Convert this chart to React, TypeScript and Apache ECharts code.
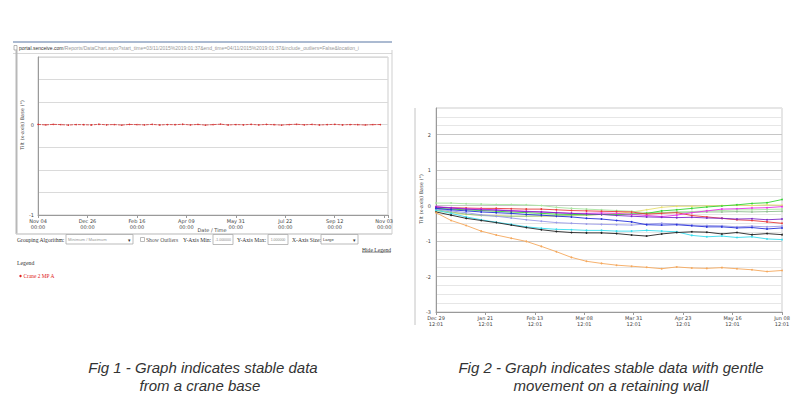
import React, { useEffect, useRef } from 'react';
import * as echarts from 'echarts';

// ---------- Fig 1 (crane base) ----------
const leftTickDates = ['Nov 04', 'Dec 26', 'Feb 16', 'Apr 09', 'May 31', 'Jul 22', 'Sep 12', 'Nov 03'];
const leftTickTime = '00:00';
const leftDays = [0, 8, 16, 24, 32, 40, 48, 56, 64, 72, 80, 88, 96, 104, 112, 120, 128, 136, 144, 152, 160, 168, 176, 184, 192, 200, 208, 216, 224, 232, 240, 248, 256, 264, 272, 280, 288, 296, 304, 312, 320, 328, 336, 344, 352, 360];
const craneValues = [0.003, -0.002, 0.004, 0.001, -0.004, 0.002, 0.0, -0.003, 0.005, -0.001, 0.002, -0.004, 0.003, 0.001, -0.002, 0.004, -0.003, 0.002, 0.0, 0.005, -0.002, 0.003, -0.004, 0.001, 0.006, -0.003, 0.002, -0.001, 0.004, -0.002, 0.003, 0.0, -0.004, 0.002, 0.005, -0.001, 0.003, -0.003, 0.001, 0.004, -0.002, 0.002, 0.0, -0.003, 0.001, 0.002];

// ---------- Fig 2 (retaining wall) ----------
const rightTickDates = ['Dec 29', 'Jan 21', 'Feb 13', 'Mar 08', 'Mar 31', 'Apr 23', 'May 16', 'Jun 08'];
const rightTickTime = '12:01';
const rightDays = [0, 7, 14, 21, 28, 35, 42, 49, 56, 63, 70, 77, 84, 91, 98, 105, 112, 119, 126, 133, 140, 147, 154, 161];
const orangeValues = [-0.2, -0.42, -0.56, -0.72, -0.83, -0.92, -1.01, -1.15, -1.3, -1.46, -1.57, -1.63, -1.68, -1.71, -1.74, -1.78, -1.73, -1.76, -1.77, -1.75, -1.78, -1.81, -1.86, -1.83];
const blackValues = [-0.18, -0.27, -0.36, -0.42, -0.48, -0.55, -0.62, -0.68, -0.73, -0.76, -0.77, -0.77, -0.79, -0.83, -0.86, -0.8, -0.76, -0.74, -0.75, -0.8, -0.76, -0.82, -0.79, -0.82];
const cyanValues = [-0.13, -0.22, -0.32, -0.4, -0.47, -0.53, -0.6, -0.64, -0.67, -0.68, -0.7, -0.7, -0.72, -0.72, -0.7, -0.72, -0.74, -0.84, -0.88, -0.86, -0.9, -0.88, -0.94, -0.96];
const blueValues = [-0.08, -0.12, -0.15, -0.18, -0.2, -0.22, -0.25, -0.27, -0.3, -0.32, -0.36, -0.38, -0.42, -0.46, -0.54, -0.55, -0.54, -0.57, -0.6, -0.6, -0.63, -0.62, -0.66, -0.63];
const lavenderValues = [-0.1, -0.15, -0.2, -0.26, -0.3, -0.35, -0.4, -0.44, -0.48, -0.5, -0.52, -0.53, -0.54, -0.55, -0.52, -0.5, -0.52, -0.55, -0.56, -0.57, -0.6, -0.58, -0.6, -0.58];
const redValues = [-0.05, -0.06, -0.07, -0.08, -0.08, -0.09, -0.1, -0.1, -0.12, -0.14, -0.15, -0.16, -0.17, -0.18, -0.24, -0.22, -0.2, -0.28, -0.32, -0.36, -0.4, -0.42, -0.46, -0.5];
const magentaValues = [-0.03, -0.06, -0.09, -0.1, -0.12, -0.14, -0.16, -0.18, -0.2, -0.22, -0.22, -0.21, -0.22, -0.25, -0.28, -0.31, -0.27, -0.2, -0.15, -0.1, -0.09, -0.07, -0.06, -0.03];
const greenValues = [-0.08, -0.1, -0.12, -0.14, -0.16, -0.18, -0.2, -0.22, -0.24, -0.25, -0.26, -0.25, -0.26, -0.24, -0.22, -0.15, -0.12, -0.08, -0.04, -0.01, 0.02, 0.06, 0.08, 0.17];
const paleGreenValues = [0.07, 0.07, 0.05, 0.04, 0.03, 0.03, 0.02, 0.0, -0.05, -0.08, -0.1, -0.12, -0.14, -0.16, -0.2, -0.2, -0.18, -0.17, -0.15, -0.14, -0.12, -0.12, -0.11, -0.1];
const yellowValues = [-0.15, -0.2, -0.25, -0.27, -0.28, -0.3, -0.3, -0.3, -0.3, -0.28, -0.27, -0.25, -0.22, -0.18, -0.12, -0.05, -0.02, -0.02, -0.01, 0.0, 0.01, 0.0, 0.02, 0.01];
const seaGreenValues = [-0.12, -0.18, -0.24, -0.28, -0.3, -0.3, -0.3, -0.29, -0.28, -0.27, -0.26, -0.25, -0.25, -0.24, -0.22, -0.2, -0.19, -0.19, -0.18, -0.18, -0.17, -0.18, -0.17, -0.16];
const purpleValues = [-0.04, -0.07, -0.1, -0.12, -0.13, -0.15, -0.17, -0.18, -0.2, -0.22, -0.24, -0.25, -0.28, -0.3, -0.32, -0.33, -0.34, -0.33, -0.35, -0.36, -0.38, -0.37, -0.4, -0.38];

const wallSeries = [
  { color: '#e8e070', values: yellowValues },
  { color: '#8fbf8f', values: seaGreenValues },
  { color: '#a8e6a0', values: paleGreenValues },
  { color: '#33d433', values: greenValues },
  { color: '#e83a3a', values: redValues },
  { color: '#e830e8', values: magentaValues },
  { color: '#7a28c8', values: purpleValues },
  { color: '#9a9ae8', values: lavenderValues },
  { color: '#2530d8', values: blueValues },
  { color: '#38dcee', values: cyanValues },
  { color: '#222222', values: blackValues },
  { color: '#f5a85c', values: orangeValues },
];

const isInt = (v: number) => Math.abs(v - Math.round(v)) < 1e-9;
const dateFormatter = (dates: string[], time: string, step: number) => (v: number) => {
  const i = v / step;
  if (!isInt(i)) return '';
  const k = Math.round(i);
  return k >= 0 && k < dates.length ? `${dates[k]}\n${time}` : '';
};

const axisFont = 'DejaVu Sans';
const serif = 'Liberation Serif';
const sans = 'Liberation Sans';

export default function App() {
  const ref = useRef<HTMLDivElement>(null);
  useEffect(() => {
    if (!ref.current) return;
    const chart = echarts.init(ref.current, undefined, { renderer: 'svg' });

    const formText = (x: number, y: number, text: string, extra: any = {}) => ({
      type: 'text', x, y, silent: true,
      style: { text, fontFamily: serif, fontSize: 5.6, fill: '#333', verticalAlign: 'middle', ...extra },
    });
    const box = (x: number, y: number, w: number, h: number) => ({
      type: 'rect', silent: true, shape: { x, y, width: w, height: h },
      style: { fill: '#fff', stroke: '#a9a9a9', lineWidth: 0.8 },
    });
    const line = (x1: number, y1: number, x2: number, y2: number, stroke: string, lineWidth = 1) => ({
      type: 'line', silent: true, shape: { x1, y1, x2, y2 }, style: { stroke, lineWidth },
    });

    const graphic: any[] = [
      // browser url bar
      line(13, 42, 392, 42, '#8fa3c2', 1.5),
      { type: 'rect', silent: true, shape: { x: 14, y: 45.5, width: 3, height: 4.5 }, style: { fill: '#fff', stroke: '#888', lineWidth: 0.6 } },
      {
        type: 'text', x: 19, y: 48, silent: true,
        style: {
          text: '{a|portal.senceive.com}{b|/Reports/DataChart.aspx?start_time=03/11/2015%2019:01:37&end_time=04/11/2015%2019:01:37&include_outliers=False&location_i}',
          verticalAlign: 'middle',
          rich: {
            a: { fontFamily: sans, fontSize: 5, fill: '#333' },
            b: { fontFamily: sans, fontSize: 5, fill: '#999' },
          },
        },
      },
      line(13, 53.5, 392, 53.5, '#d8d8d8', 1),
      // outer frame of fig 1
      line(16.5, 50, 16.5, 234, '#b8b8b8', 2),
      line(392, 50, 392, 234, '#cfcfcf', 1),
      line(16, 234, 392, 234, '#cfcfcf', 1.5),
      {
        type: 'text', x: 22, y: 125, rotation: Math.PI / 2, silent: true,
        style: { text: 'Tilt (x-axis) Base (°)', fontFamily: axisFont, fontSize: 5, fill: '#444', align: 'center', verticalAlign: 'middle' },
      },
      {
        type: 'text', x: 212, y: 230, silent: true,
        style: { text: 'Date / Time', fontFamily: axisFont, fontSize: 5, fill: '#444', align: 'center', verticalAlign: 'middle' },
      },
      // form row
      formText(17, 239.5, 'Grouping Algorithm:'),
      box(66, 234.5, 67, 9.5),
      formText(68, 239.5, 'Minimum / Maximum', { fontFamily: sans, fontSize: 4.2, fill: '#999' }),
      formText(128, 239.5, '▾', { fontFamily: sans, fontSize: 5, fill: '#333' }),
      box(140.5, 237.5, 4, 4),
      formText(146, 239.5, 'Show Outliers', { fill: '#555' }),
      formText(183, 239.5, 'Y-Axis Min:'),
      box(213, 234.5, 20, 10),
      formText(223, 239.5, '-1.000000', { fontFamily: sans, fontSize: 3.5, fill: '#888', align: 'center' }),
      formText(237, 239.5, 'Y-Axis Max:'),
      box(268, 234.5, 20, 10),
      formText(278, 239.5, '1.000000', { fontFamily: sans, fontSize: 3.5, fill: '#888', align: 'center' }),
      formText(292, 239.5, 'X-Axis Size:'),
      box(321, 234.5, 37, 9.5),
      formText(323, 239.5, 'Large', { fontFamily: sans, fontSize: 4.2, fill: '#333' }),
      formText(353, 239.5, '▾', { fontFamily: sans, fontSize: 5, fill: '#333' }),
      formText(362, 249.5, 'Hide Legend', { fill: '#333' }),
      line(362, 252.2, 391, 252.2, '#555', 0.6),
      formText(17, 263, 'Legend', { fontSize: 5.8 }),
      { type: 'circle', silent: true, shape: { cx: 20.5, cy: 276, r: 1.2 }, style: { fill: '#e02020' } },
      formText(23.5, 276, 'Crane 2 MP A', { fontSize: 5.4, fill: '#e02020' }),
      // fig 2 frame and axis name
      line(415, 108, 415, 325, '#c4c4c4', 1),
      {
        type: 'text', x: 421, y: 199, rotation: Math.PI / 2, silent: true,
        style: { text: 'Tilt (x-axis) Base (°)', fontFamily: axisFont, fontSize: 5, fill: '#444', align: 'center', verticalAlign: 'middle' },
      },
      // captions
      {
        type: 'text', x: 203, y: 367, silent: true,
        style: { text: 'Fig 1 - Graph indicates stable data', fontFamily: sans, fontStyle: 'italic', fontSize: 15, fill: '#333', align: 'center', verticalAlign: 'middle' },
      },
      {
        type: 'text', x: 200, y: 385, silent: true,
        style: { text: 'from a crane base', fontFamily: sans, fontStyle: 'italic', fontSize: 15, fill: '#333', align: 'center', verticalAlign: 'middle' },
      },
      {
        type: 'text', x: 611, y: 367, silent: true,
        style: { text: 'Fig 2 - Graph indicates stable data with gentle', fontFamily: sans, fontStyle: 'italic', fontSize: 15, fill: '#333', align: 'center', verticalAlign: 'middle' },
      },
      {
        type: 'text', x: 611, y: 385, silent: true,
        style: { text: 'movement on a retaining wall', fontFamily: sans, fontStyle: 'italic', fontSize: 15, fill: '#333', align: 'center', verticalAlign: 'middle' },
      },
    ];

    const xAxisCommon = (gridIndex: number, max: number, interval: number, fmt: (v: number) => string) => ({
      type: 'value', gridIndex, min: 0, max, interval,
      axisLine: { show: true, onZero: false, lineStyle: { color: '#9a9a9a', width: 1 } },
      axisTick: { show: true, length: 3, lineStyle: { color: '#9a9a9a' } },
      splitLine: { show: false },
      axisLabel: { fontSize: 5, fontFamily: axisFont, color: '#444', lineHeight: 6, margin: 3, formatter: fmt, showMaxLabel: true, hideOverlap: false },
    });

    chart.setOption({
      animation: false,
      backgroundColor: '#ffffff',
      grid: [
        { left: 38, top: 57, width: 350, height: 158, show: true, borderColor: '#cdcdcd', borderWidth: 1, backgroundColor: '#fff', containLabel: false },
        { left: 436, top: 108, width: 346, height: 204, show: true, borderColor: '#cdcdcd', borderWidth: 1, backgroundColor: '#fff', containLabel: false },
      ],
      xAxis: [
        xAxisCommon(0, 368, 52, dateFormatter(leftTickDates, leftTickTime, 52)),
        xAxisCommon(1, 161, 23, dateFormatter(rightTickDates, rightTickTime, 23)),
      ],
      yAxis: [
        {
          type: 'value', gridIndex: 0, min: -1, max: 0.75, interval: 0.25,
          axisLine: { show: true, lineStyle: { color: '#9a9a9a' } },
          axisTick: { show: false },
          splitLine: { show: true, lineStyle: { color: '#dadada', width: 1 } },
          axisLabel: { fontSize: 5, fontFamily: axisFont, color: '#444', margin: 4, formatter: (v: number) => (isInt(v) ? String(Math.round(v)) : '') },
        },
        {
          type: 'value', gridIndex: 1, min: -3, max: 2.75, interval: 0.25,
          axisLine: { show: true, lineStyle: { color: '#9a9a9a' } },
          axisTick: { show: false },
          splitLine: { show: true, lineStyle: { color: ['#c6c6c6', '#e6e6e6', '#e6e6e6', '#e6e6e6'], width: 1 } },
          axisLabel: { fontSize: 5, fontFamily: axisFont, color: '#444', margin: 5, formatter: (v: number) => (isInt(v) ? String(Math.round(v)) : '') },
        },
      ],
      series: [
        {
          type: 'line', xAxisIndex: 0, yAxisIndex: 0, silent: true,
          data: leftDays.map((d, i) => [d, craneValues[i]]),
          showSymbol: true, symbol: 'circle', symbolSize: 1.5,
          itemStyle: { color: '#d83030' },
          lineStyle: { color: '#d83030', width: 0.8, type: [3, 1] },
        },
        ...wallSeries.map((s) => ({
          type: 'line', xAxisIndex: 1, yAxisIndex: 1, silent: true,
          data: rightDays.map((d, i) => [d, s.values[i]]),
          showSymbol: true, symbol: 'circle', symbolSize: 1.8,
          itemStyle: { color: s.color },
          lineStyle: { color: s.color, width: 0.9 },
        })),
      ],
      graphic,
    });
    return () => chart.dispose();
  }, []);
  return <div ref={ref} style={{ position: 'fixed', left: 0, top: 0, width: 800, height: 399 }} />;
}
